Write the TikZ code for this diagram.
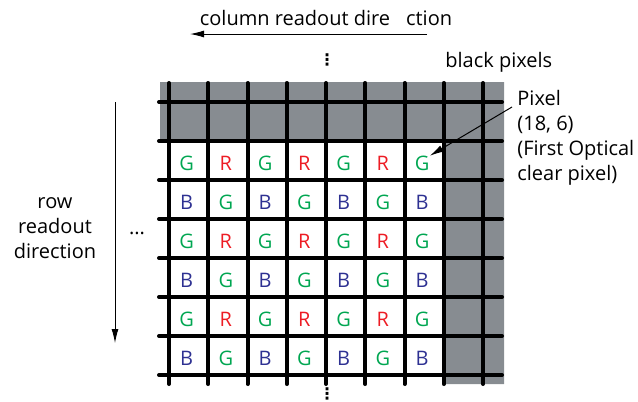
\documentclass[tikz,border=0pt]{standalone}
\usepackage{fontspec}
\setmainfont{Open Sans}
\newfontfamily\symfont{DejaVu Sans}
\usetikzlibrary{arrows.meta}
\definecolor{sensorgray}{RGB}{135,140,145}
\definecolor{bayergreen}{RGB}{0,166,81}
\definecolor{bayerred}{RGB}{237,28,36}
\definecolor{bayerblue}{RGB}{46,49,146}
\newcommand{\dotcol}{{\symfont\bfseries\fontsize{8}{9}\selectfont ⋮}}

\begin{document}
\begin{tikzpicture}[x=0.5pt,y=-0.5pt,
	font=\fontsize{10}{12.5}\selectfont,inner sep=0pt,
	gridline/.style={line width=2pt,line cap=round},
	readarrow/.style={-{Latex[length=7pt,width=3.5pt]},line width=0.5pt},
	letter/.style={inner sep=0pt}
]
	\useasboundingbox (0,0) rectangle (638,402);

	\fill[sensorgray] (160,82) -- (504,82) -- (504,384) -- (444,384) -- (444,141) -- (160,141) -- cycle;

	\foreach \i in {0,...,8}
		\draw[gridline] (169+39.25*\i,83) -- (169+39.25*\i,384);
	\foreach \j in {0,...,7}
		\draw[gridline] (159,102+39*\j) -- (502,102+39*\j);

	% colour filter letters
	\foreach \r in {1,3,5} {
		\foreach \c in {1,3,5,7}
			\node[letter,bayergreen] (c-\r-\c) at (169+39.25*\c-21.6,102+39*\r+22.5) {G};
		\foreach \c in {2,4,6}
			\node[letter,bayerred] (c-\r-\c) at (169+39.25*\c-21.6,102+39*\r+22.5) {R};
	}
	\foreach \r in {2,4,6} {
		\foreach \c in {1,3,5,7}
			\node[letter,bayerblue] (c-\r-\c) at (169+39.25*\c-21.6,102+39*\r+22.5) {B};
		\foreach \c in {2,4,6}
			\node[letter,bayergreen] (c-\r-\c) at (169+39.25*\c-21.6,102+39*\r+22.5) {G};
	}

	\node[anchor=base] (collbl) at (326,25) {column readout dire\hspace{8pt}ction};
	\coordinate (colstart) at (427,34);
	\coordinate (colend) at (190,34);
	\draw[readarrow] (colstart) -- (colend);

	\node[align=center] (rowlbl) at (55,228) {row\\readout\\direction};
	\coordinate (rowstart) at (115,102);
	\coordinate (rowend) at (115,343);
	\draw[readarrow] (rowstart) -- (rowend);

	\node (topdots) at (327,60) {\dotcol};
	\node (botdots) at (327,394) {\dotcol};
	\node (leftdots) at (137,233) {...};

	\node[anchor=base west] (blk) at (445,67) {black pixels};
	\node[anchor=north west,align=left] (pix) at (517,90) {Pixel\\(18, 6)\\(First Optical\\clear pixel)};
	\draw[readarrow] ([xshift=-2.5pt,yshift=-8.5pt]pix.north west) -- (c-1-7.north east);

\end{tikzpicture}
\end{document}
